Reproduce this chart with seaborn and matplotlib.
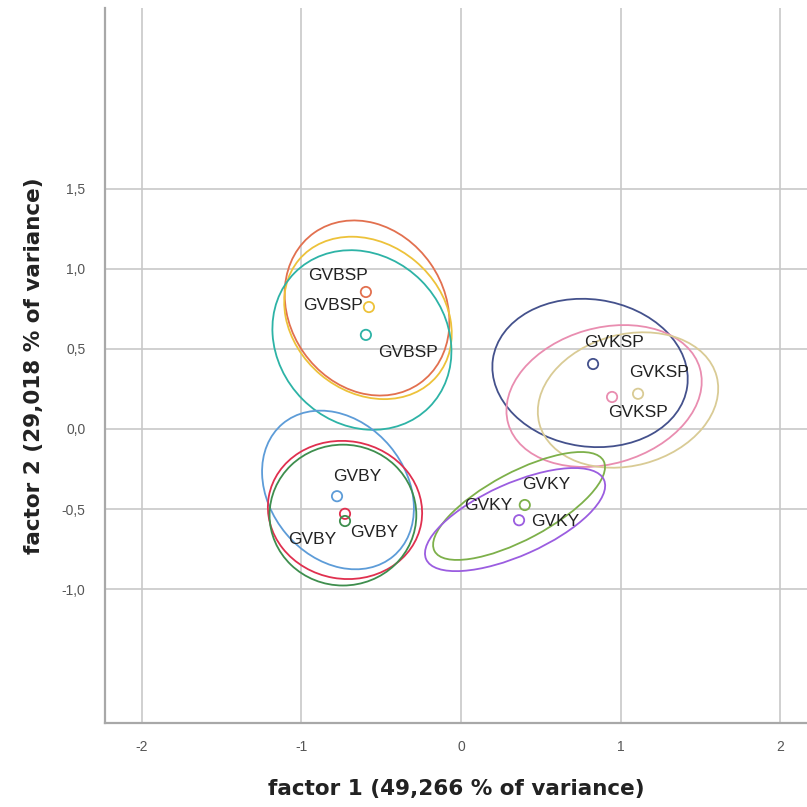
import numpy as np
import pandas as pd
import matplotlib
matplotlib.use("Agg")
import matplotlib.pyplot as plt
from matplotlib.patches import Ellipse
import seaborn as sns

# Group means on the two factors
groups = ["GVBSP", "GVBSP", "GVBSP",
          "GVKSP", "GVKSP", "GVKSP",
          "GVBY", "GVBY", "GVBY",
          "GVKY", "GVKY"]
series = ["s1", "s2", "s3", "s4", "s5", "s6", "s7", "s8", "s9", "s10", "s11"]
factor1 = [-0.596, -0.577, -0.596, 0.828, 0.947, 1.110, -0.777, -0.727, -0.727, 0.400, 0.364]
factor2 = [0.856, 0.762, 0.588, 0.406, 0.200, 0.220, -0.420, -0.530, -0.575, -0.475, -0.570]
colors = ["#E2704F", "#EDC23A", "#2DB3A6", "#44518C", "#E98DB0", "#D9CB95",
          "#5D9CD8", "#E0304F", "#3E8E4E", "#7DB04A", "#9B5DE0"]

# Confidence ellipses: centre, full axes and rotation (degrees)
ell_x = [-0.589, -0.583, -0.621, 0.809, 0.897, 1.047, -0.771, -0.727, -0.740, 0.364, 0.339]
ell_y = [0.756, 0.694, 0.556, 0.350, 0.206, 0.181, -0.381, -0.506, -0.538, -0.481, -0.566]
ell_w = [1.15, 1.13, 1.19, 1.23, 1.25, 1.15, 1.08, 0.97, 0.92, 1.20, 1.22]
ell_h = [0.97, 0.925, 1.05, 0.92, 0.85, 0.82, 0.85, 0.86, 0.88, 0.42, 0.45]
ell_ang = [-55, -40, -45, -8, 16, 15, -50, -10, 0, 28, 24]

# Point labels
lab_text = ["GVBSP", "GVBSP", "GVBSP", "GVKSP", "GVKSP", "GVKSP",
            "GVBY", "GVBY", "GVBY", "GVKY", "GVKY", "GVKY"]
lab_x = [-0.771, -0.803, -0.332, 0.959, 1.241, 1.110, -0.652, -0.934, -0.545, 0.533, 0.169, 0.589]
lab_y = [0.956, 0.769, 0.481, 0.5375, 0.350, 0.100, -0.294, -0.6875, -0.644, -0.344, -0.475, -0.575]

xticks = [-2, -1, 0, 1, 2]
yticks = [-1.0, -0.5, 0.0, 0.5, 1.0, 1.5]
ytick_labels = ["-1,0", "-0,5", "0,0", "0,5", "1,0", "1,5"]

sns.set_theme(style="white")
plt.rcParams["font.family"] = ["Liberation Sans", "DejaVu Sans"]

fig = plt.figure(figsize=(8.07, 8.07), dpi=100)
ax = fig.add_axes([0.130, 0.104, 0.870, 0.886])

df = pd.DataFrame({"f1": factor1, "f2": factor2, "series": series, "group": groups})

for cx, cy, w, h, a, c in zip(ell_x, ell_y, ell_w, ell_h, ell_ang, colors):
    ax.add_patch(Ellipse((cx, cy), w, h, angle=a, fill=False, edgecolor=c, lw=1.3, zorder=3))

sns.scatterplot(data=df, x="f1", y="f2", hue="series", palette=colors,
                s=55, marker="o", linewidth=1.3, legend=False, ax=ax, zorder=4)
pc = ax.collections[-1]
pc.set_edgecolors(pc.get_facecolors())
pc.set_facecolors("none")

for t, x, y in zip(lab_text, lab_x, lab_y):
    ax.text(x, y, t, ha="center", va="center", fontsize=12.5, color="#222222", zorder=5)

ax.set_xlim(-2.232, 2.169)
ax.set_ylim(-1.8375, 2.63)
ax.set_xticks(xticks)
ax.set_xticklabels([str(v) for v in xticks])
ax.set_yticks(yticks)
ax.set_yticklabels(ytick_labels)
ax.grid(True, color="#c8c8c8", lw=1.2)
ax.set_axisbelow(True)
ax.tick_params(axis="both", length=0, labelsize=10, labelcolor="#555555")
ax.tick_params(axis="x", pad=12)
ax.tick_params(axis="y", pad=14)

for side in ["top", "right"]:
    ax.spines[side].set_visible(False)
for side in ["left", "bottom"]:
    ax.spines[side].set_color("#a8a8a8")
    ax.spines[side].set_linewidth(1.6)

title_font = dict(family=["DejaVu Sans"], fontsize=15.5, fontweight="bold", color="#222222")
ax.set_xlabel("factor 1 (49,266 % of variance)", labelpad=18, **title_font)
ax.set_ylabel("factor 2 (29,018 % of variance)", labelpad=13, **title_font)

fig.savefig("out.png", dpi=100)
